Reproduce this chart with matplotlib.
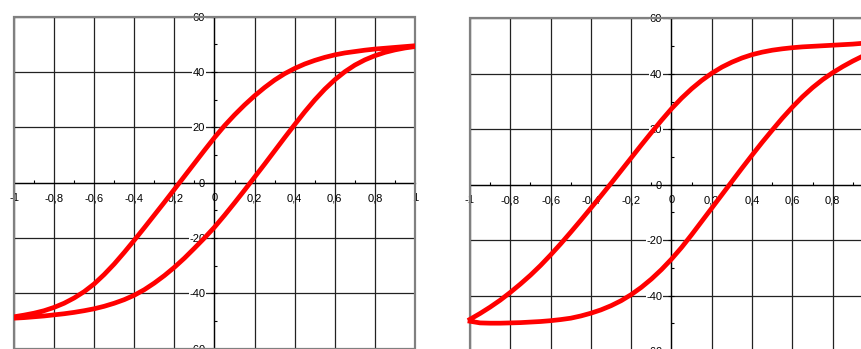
import matplotlib
matplotlib.use("Agg")
import matplotlib.pyplot as plt
from matplotlib.patches import Rectangle

plt.rcParams['font.family'] = ['Liberation Sans', 'DejaVu Sans']

# axis ticks (decimal comma labels)
x_ticks = [-1, -0.8, -0.6, -0.4, -0.2, 0, 0.2, 0.4, 0.6, 0.8, 1]
x_labels = ["-1", "-0,8", "-0,6", "-0,4", "-0,2", "0", "0,2", "0,4", "0,6", "0,8", "1"]
x_minor = [-0.9, -0.7, -0.5, -0.3, -0.1, 0.1, 0.3, 0.5, 0.7, 0.9]
y_ticks = [-60, -40, -20, 0, 20, 40, 60]
y_labels = ["-60", "-40", "-20", "0", "20", "40", "60"]
y_minor = [-50, -30, -10, 10, 30, 50]

# field values shared by both loops
h = [-1.00, -0.95, -0.90, -0.85, -0.80, -0.75, -0.70, -0.65, -0.60, -0.55,
     -0.50, -0.45, -0.40, -0.35, -0.30, -0.25, -0.20, -0.15, -0.10, -0.05,
     0.00, 0.05, 0.10, 0.15, 0.20, 0.25, 0.30, 0.35, 0.40, 0.45,
     0.50, 0.55, 0.60, 0.65, 0.70, 0.75, 0.80, 0.85, 0.90, 0.95, 1.00]

# left loop: rising and falling branch, both listed from h=-1 to h=1
left_rising = [-49.0, -48.8, -48.5, -48.2, -47.8, -47.4, -46.9, -46.3, -45.6, -44.7,
               -43.6, -42.3, -40.7, -38.7, -36.3, -33.6, -30.6, -27.3, -23.7, -20.0,
               -16.1, -11.8, -7.3, -2.7, 2.0, 6.7, 11.5, 16.3, 21.0, 25.6,
               29.9, 33.8, 37.2, 40.1, 42.5, 44.4, 45.9, 47.1, 48.0, 48.7, 49.2]
left_falling = [-48.5, -47.9, -47.2, -46.3, -45.1, -43.6, -41.7, -39.4, -36.6, -33.2,
                -29.4, -25.2, -20.8, -16.3, -11.7, -7.1, -2.4, 2.3, 7.0, 11.7,
                16.3, 20.6, 24.5, 28.1, 31.4, 34.4, 37.1, 39.4, 41.3, 42.9,
                44.2, 45.3, 46.2, 46.9, 47.4, 47.9, 48.3, 48.6, 48.9, 49.2, 49.5]

# right loop
right_rising = [-49.2, -49.8, -49.9, -49.9, -49.8, -49.7, -49.5, -49.3, -49.0, -48.6,
                -48.1, -47.3, -46.3, -45.1, -43.6, -41.8, -39.6, -37.0, -34.0, -30.6,
                -26.8, -22.6, -18.0, -13.2, -8.4, -3.6, 1.2, 6.0, 10.7, 15.3,
                19.7, 24.0, 28.0, 31.7, 35.0, 37.9, 40.4, 42.6, 44.6, 46.4, 48.0]
right_falling = [-48.5, -46.4, -44.1, -41.6, -38.8, -35.8, -32.6, -29.1, -25.3, -21.3,
                 -17.1, -12.8, -8.4, -4.0, 0.5, 5.1, 9.7, 14.3, 18.8, 23.2,
                 27.4, 31.2, 34.6, 37.6, 40.2, 42.4, 44.2, 45.7, 46.9, 47.8,
                 48.5, 49.0, 49.4, 49.7, 49.9, 50.1, 50.3, 50.5, 50.7, 51.0, 51.2]


def setup_axes(ax):
    ax.set_xlim(-1, 1)
    ax.set_ylim(-60, 60)
    ax.set_facecolor('none')
    ax.spines['top'].set_visible(False)
    ax.spines['right'].set_visible(False)
    ax.spines['left'].set_position('zero')
    ax.spines['bottom'].set_position('zero')
    for side in ['left', 'bottom']:
        ax.spines[side].set_color('black')
        ax.spines[side].set_linewidth(0.9)

    ax.set_xticks(x_ticks)
    ax.set_xticklabels(x_labels)
    ax.set_xticks(x_minor, minor=True)
    ax.set_yticks(y_ticks)
    ax.set_yticklabels(y_labels)
    ax.set_yticks(y_minor, minor=True)

    ax.tick_params(axis='x', which='major', length=0, pad=7.5, labelsize=8)
    ax.tick_params(axis='x', which='minor', direction='in', length=2.2, width=0.8)
    ax.tick_params(axis='y', which='major', direction='inout', length=5, width=0.8,
                   pad=4.2, labelsize=8)
    ax.tick_params(axis='y', which='minor', direction='in', length=2.2, width=0.8)

    ax.grid(True, which='major', color='#222222', linewidth=0.9)
    for lbl in ax.get_yticklabels():
        lbl.set_bbox(dict(facecolor='white', edgecolor='none', pad=0.3))

    # grey plot-area border
    ax.add_patch(Rectangle((0, 0), 1, 1, transform=ax.transAxes, fill=False,
                           edgecolor='#808080', linewidth=1.6, clip_on=False, zorder=2.6))


fig = plt.figure(figsize=(8.62, 3.49), dpi=100)

ax1 = fig.add_axes([14 / 862, 0.4 / 349, 401 / 862, 331.9 / 349])
setup_axes(ax1)
ax1.plot(h + h[::-1], left_rising + left_falling[::-1], color='#ff0000',
         linewidth=3.4, solid_joinstyle='round', zorder=3)

ax2 = fig.add_axes([470 / 862, -2.2 / 349, 403 / 862, 332.9 / 349])
setup_axes(ax2)
ax2.plot(h + h[::-1], right_rising + right_falling[::-1], color='#ff0000',
         linewidth=3.4, solid_joinstyle='round', zorder=3, clip_on=False)

fig.savefig("out.png", dpi=100)
